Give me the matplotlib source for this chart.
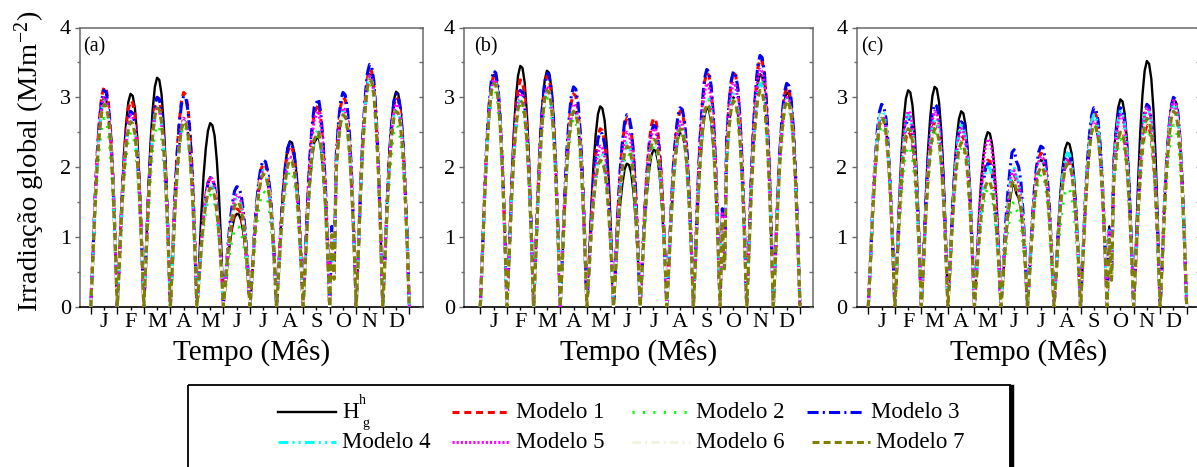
# horas medias mensais de irradiacao global: observado (H_g^h) e 7 modelos, 3 locais
import numpy as np
import matplotlib
matplotlib.use('Agg')
import matplotlib.pyplot as plt
from matplotlib.ticker import MultipleLocator
from matplotlib.patches import Rectangle

plt.rcParams['font.family'] = ['Liberation Serif', 'DejaVu Serif']
plt.rcParams['mathtext.fontset'] = 'custom'
plt.rcParams['mathtext.rm'] = 'Liberation Serif'
plt.rcParams['mathtext.it'] = 'Liberation Serif:italic'
plt.rcParams['lines.scale_dashes'] = False


# dados
meses = ['J', 'F', 'M', 'A', 'M', 'J', 'J', 'A', 'S', 'O', 'N', 'D']
rotulos_painel = ['(a)', '(b)', '(c)']

# observado, valores horarios de cada mes (MJ m-2)
obs_a = [
    [0, .72, 1.50, 2.13, 2.58, 2.88, 3.00, 2.97, 2.79, 2.40, 1.80, .99, 0],
    [0, .73, 1.53, 2.17, 2.62, 2.93, 3.05, 3.02, 2.84, 2.44, 1.83, 1.01, 0],
    [0, .79, 1.64, 2.33, 2.82, 3.15, 3.28, 3.25, 3.05, 2.62, 1.97, 1.08, 0],
    [0, .64, 1.34, 1.90, 2.30, 2.56, 2.67, 2.64, 2.48, 2.14, 1.60, .88, 0],
    [0, .63, 1.32, 1.87, 2.26, 2.52, 2.63, 2.60, 2.45, 2.10, 1.58, .87, 0],
    [.05, .32, .67, .94, 1.14, 1.28, 1.33, 1.32, 1.24, 1.06, .80, .44, 0],
    [0, .46, .97, 1.37, 1.66, 1.85, 1.93, 1.91, 1.79, 1.54, 1.16, .64, 0],
    [0, .57, 1.19, 1.68, 2.04, 2.28, 2.37, 2.35, 2.20, 1.90, 1.42, .78, 0],
    [0, .59, 1.23, 1.74, 2.11, 2.35, 2.40, 2.45, 2.28, 1.96, 1.47, .81, 0],
    [0, 1.05, .40, 1.99, 2.41, 2.69, 2.80, 2.77, 2.60, 2.24, 1.68, .92, 0],
    [0, .80, 1.67, 2.36, 2.86, 3.20, 3.33, 3.30, 3.10, 2.66, 2.00, 1.10, 0],
    [0, .74, 1.54, 2.19, 2.65, 2.96, 3.08, 3.05, 2.86, 2.46, 1.85, 1.02, 0],
]
obs_b = [
    [0, .80, 1.66, 2.36, 2.86, 3.19, 3.32, 3.29, 3.09, 2.66, 1.99, 1.10, 0],
    [0, .83, 1.73, 2.45, 2.97, 3.31, 3.45, 3.42, 3.21, 2.76, 2.07, 1.14, 0],
    [0, .81, 1.69, 2.40, 2.91, 3.24, 3.38, 3.35, 3.14, 2.70, 2.03, 1.12, 0],
    [0, .68, 1.42, 2.01, 2.43, 2.72, 2.83, 2.80, 2.63, 2.26, 1.70, .93, 0],
    [0, .69, 1.44, 2.04, 2.47, 2.76, 2.87, 2.84, 2.67, 2.30, 1.72, .95, 0],
    [0, .49, 1.03, 1.46, 1.76, 1.97, 2.05, 2.03, 1.91, 1.64, 1.23, .68, 0],
    [0, .54, 1.13, 1.60, 1.94, 2.16, 2.25, 2.23, 2.09, 1.80, 1.35, .74, 0],
    [0, .60, 1.25, 1.78, 2.15, 2.40, 2.50, 2.48, 2.33, 2.00, 1.50, .83, 0],
    [0, .68, 1.43, 2.02, 2.45, 2.74, 2.85, 2.82, 2.65, 2.28, 1.71, .94, 0],
    [0, 1.25, .55, 2.13, 2.58, 2.88, 3.00, 2.97, 2.79, 2.40, 1.80, .99, 0],
    [0, .80, 1.67, 2.36, 2.86, 3.20, 3.33, 3.30, 3.10, 2.66, 2.00, 1.10, 0],
    [0, .74, 1.54, 2.18, 2.64, 2.95, 3.07, 3.04, 2.86, 2.46, 1.84, 1.01, 0],
]
obs_c = [
    [0, .66, 1.38, 1.95, 2.37, 2.64, 2.75, 2.72, 2.56, 2.20, 1.65, .91, 0],
    [0, .74, 1.55, 2.20, 2.67, 2.98, 3.10, 3.07, 2.88, 2.48, 1.86, 1.02, 0],
    [0, .76, 1.58, 2.24, 2.71, 3.02, 3.15, 3.12, 2.93, 2.52, 1.89, 1.04, 0],
    [0, .67, 1.40, 1.99, 2.41, 2.69, 2.80, 2.77, 2.60, 2.24, 1.68, .92, 0],
    [0, .60, 1.25, 1.78, 2.15, 2.40, 2.50, 2.48, 2.33, 2.00, 1.50, .83, 0],
    [0, .42, .88, 1.24, 1.51, 1.72, 1.75, 1.62, 1.56, 1.40, 1.05, .58, 0],
    [0, .50, 1.05, 1.49, 1.81, 2.02, 2.10, 2.08, 1.95, 1.68, 1.26, .69, 0],
    [0, .56, 1.18, 1.67, 2.02, 2.26, 2.35, 2.33, 2.19, 1.88, 1.41, .78, 0],
    [0, .62, 1.30, 1.85, 2.24, 2.50, 2.60, 2.57, 2.42, 2.08, 1.56, .86, 0],
    [0, 1.15, .45, 2.11, 2.55, 2.85, 2.97, 2.94, 2.76, 2.38, 1.78, .98, 0],
    [0, .84, 1.76, 2.50, 3.03, 3.38, 3.52, 3.48, 3.27, 2.82, 2.11, 1.16, 0],
    [0, .71, 1.49, 2.11, 2.55, 2.85, 2.97, 2.94, 2.76, 2.38, 1.78, .98, 0],
]

# picos mensais de cada modelo (MJ m-2)
picos_a = {
    'Modelo 1': [3.15, 2.95, 3.00, 3.07, 1.85, 1.40, 2.05, 2.30, 2.90, 3.00, 3.40, 3.00],
    'Modelo 2': [2.70, 2.50, 2.60, 2.60, 1.60, 1.15, 1.65, 1.95, 2.45, 2.75, 3.20, 2.60],
    'Modelo 3': [3.10, 2.80, 3.00, 3.02, 1.85, 1.72, 2.10, 2.35, 2.98, 3.07, 3.47, 3.05],
    'Modelo 4': [2.95, 2.70, 2.85, 2.65, 1.75, 1.55, 1.95, 2.10, 2.55, 2.80, 3.30, 2.85],
    'Modelo 5': [3.00, 2.75, 2.85, 2.70, 1.85, 1.60, 1.95, 2.15, 2.80, 2.85, 3.30, 2.90],
    'Modelo 6': [2.90, 2.70, 2.85, 2.65, 1.75, 1.50, 1.95, 2.10, 2.55, 2.80, 3.25, 2.85],
    'Modelo 7': [2.90, 2.65, 2.85, 2.65, 1.70, 1.50, 1.90, 2.10, 2.50, 2.75, 3.25, 2.80],
}
picos_b = {
    'Modelo 1': [3.30, 3.25, 3.30, 3.05, 2.55, 2.70, 2.70, 2.80, 3.35, 3.35, 3.55, 3.15],
    'Modelo 2': [3.10, 2.90, 3.00, 2.70, 2.10, 2.20, 2.30, 2.50, 3.00, 2.95, 3.25, 2.90],
    'Modelo 3': [3.38, 3.10, 3.35, 3.15, 2.50, 2.75, 2.60, 2.85, 3.40, 3.37, 3.60, 3.20],
    'Modelo 4': [3.25, 3.00, 3.10, 2.85, 2.20, 2.35, 2.40, 2.60, 3.00, 3.05, 3.20, 3.00],
    'Modelo 5': [3.25, 3.05, 3.15, 2.90, 2.30, 2.50, 2.55, 2.65, 3.20, 3.20, 3.40, 3.00],
    'Modelo 6': [3.20, 3.00, 3.10, 2.85, 2.15, 2.30, 2.40, 2.55, 2.95, 3.00, 3.15, 2.95],
    'Modelo 7': [3.20, 2.95, 3.10, 2.80, 2.10, 2.30, 2.40, 2.55, 2.90, 2.95, 3.10, 2.95],
}
picos_c = {
    'Modelo 1': [2.70, 2.50, 2.65, 2.45, 2.10, 1.90, 2.20, 2.10, 2.78, 2.55, 2.60, 2.85],
    'Modelo 2': [2.60, 2.30, 2.50, 2.30, 1.70, 1.50, 1.90, 1.70, 2.60, 2.40, 2.55, 2.60],
    'Modelo 3': [2.90, 2.70, 2.90, 2.65, 2.05, 2.25, 2.30, 2.20, 2.85, 2.85, 2.90, 3.00],
    'Modelo 4': [2.80, 2.75, 2.70, 2.60, 2.00, 2.00, 2.10, 2.20, 2.75, 2.80, 2.85, 2.90],
    'Modelo 5': [2.75, 2.80, 2.80, 2.55, 2.40, 1.95, 2.15, 2.10, 2.65, 2.75, 2.85, 2.95],
    'Modelo 6': [2.75, 2.60, 2.60, 2.40, 1.90, 1.85, 2.05, 2.05, 2.60, 2.55, 2.70, 2.85],
    'Modelo 7': [2.70, 2.55, 2.55, 2.35, 1.80, 1.80, 2.00, 2.05, 2.60, 2.50, 2.70, 2.80],
}

# estilos
cor_obs = 'black'
estilos = {
    'Modelo 1': ('#ff0000', (0, (5, 3.5))),
    'Modelo 2': ('#00ff00', (0, (1.5, 6))),
    'Modelo 3': ('#0000ff', (0, (8, 3, 1.5, 3))),
    'Modelo 4': ('#00ffff', (0, (7, 3, 1.5, 3, 1.5, 3))),
    'Modelo 5': ('#ff00ff', (0, (1.5, 1.5))),
    'Modelo 6': ('#f3f3e2', (0, (6, 3, 1.5, 3))),
    'Modelo 7': ('#808000', (0, (5, 3))),
}


def serie(valores_mes, picos=None):
    xs, ys = [], []
    for m, v in enumerate(valores_mes):
        v = np.array(v, dtype=float)
        if picos is not None:
            v = v / v.max() * picos[m]
        xs.append(m + np.linspace(0, 1, len(v)))
        ys.append(v)
    return np.concatenate(xs), np.concatenate(ys)


W, H = 1197, 467
fig = plt.figure(figsize=(W / 100, H / 100), dpi=100)

# posicoes dos paineis em pixels: esquerda, direita, x do primeiro tick, espaco entre ticks
layout = [(80, 423, 90.7, 26.55), (464.3, 813, 480.3, 26.64), (856.7, 1200, 868.3, 26.53)]
topo, base = 27.5, 306.7
cinza = '#6a6a6a'

for i, (obs, picos) in enumerate([(obs_a, picos_a), (obs_b, picos_b), (obs_c, picos_c)]):
    esq, dir_, t0, dx = layout[i]
    ax = fig.add_axes([esq / W, (H - base) / H, (dir_ - esq) / W, (base - topo) / H])

    x, y = serie(obs)
    ax.plot(x, y, color=cor_obs, lw=1.7, zorder=2)
    for nome, (cor, ls) in estilos.items():
        x, y = serie(obs, picos[nome])
        ax.plot(x, y, color=cor, ls=ls, lw=2.2, zorder=3)

    ax.set_xlim((esq - t0) / dx, (dir_ - t0) / dx)
    ax.set_ylim(0, 4)

    ax.set_xticks(np.arange(13))
    ax.set_xticklabels([])
    ax.set_xticks(np.arange(12) + 0.5, meses, minor=True)
    ax.tick_params(axis='x', which='major', direction='out', length=5, width=1, color='black')
    ax.tick_params(axis='x', which='minor', direction='out', length=2.5, width=1,
                   color='black', labelsize=16, pad=2)

    ax.yaxis.set_major_locator(MultipleLocator(1))
    ax.yaxis.set_minor_locator(MultipleLocator(0.5))
    ax.tick_params(axis='y', which='major', direction='out', length=3.6, width=1,
                   color=cinza, labelsize=16, pad=3)
    ax.tick_params(axis='y', which='minor', direction='out', length=2.2, width=1, color=cinza)

    # ticks do eixo direito voltados para dentro
    ax2 = ax.twinx()
    ax2.set_ylim(0, 4)
    ax2.yaxis.set_major_locator(MultipleLocator(1))
    ax2.yaxis.set_minor_locator(MultipleLocator(0.5))
    ax2.tick_params(axis='y', which='both', direction='in', length=3, width=1,
                    color=cinza, labelright=False)
    for s in ax2.spines.values():
        s.set_visible(False)

    for lado in ['left', 'top', 'right']:
        ax.spines[lado].set_color(cinza)
        ax.spines[lado].set_linewidth(1.1)
    ax.spines['bottom'].set_color('black')
    ax.spines['bottom'].set_linewidth(1.2)

    ax.text([3.5, 10, 4.5][i] / (dir_ - esq), (base - 37) / (base - topo),
            rotulos_painel[i], fontsize=14.5, ha='left', va='top', transform=ax.transAxes)

    ax.set_xlabel('Tempo (Mês)', fontsize=21)
    ax.xaxis.label.set_va('center')
    ax.xaxis.set_label_coords(0.5, -(352 - base) / (base - topo))

fig.text(29.5 / W, 1 - 161.5 / H, 'Irradiação global (MJm$^{-2}$)', fontsize=20.5,
         rotation=90, ha='center', va='center')

# legenda desenhada em coordenadas de pixel
lg = fig.add_axes([0, 0, 1, 1])
lg.set_xlim(0, W)
lg.set_ylim(H, 0)
lg.axis('off')
lg.patch.set_alpha(0)
lg.add_patch(Rectangle((188, 384.5), 822, 100, fill=False, lw=1.3, ec='black', clip_on=False))
lg.plot([1011.5, 1011.5], [387, H + 5], color='black', lw=3.2, clip_on=False)

entradas = [
    (278, 412, 'H', cor_obs, '-'),
    (452, 412, 'Modelo 1') + estilos['Modelo 1'],
    (632, 412, 'Modelo 2') + estilos['Modelo 2'],
    (807, 412, 'Modelo 3') + estilos['Modelo 3'],
    (278, 442, 'Modelo 4') + estilos['Modelo 4'],
    (452, 442, 'Modelo 5') + estilos['Modelo 5'],
    (632, 442, 'Modelo 6') + estilos['Modelo 6'],
    (812, 442, 'Modelo 7') + estilos['Modelo 7'],
]
for x0, y0, nome, cor, ls in entradas:
    lg.plot([x0, x0 + 58], [y0, y0], color=cor, ls=ls, lw=1.7 if nome == 'H' else 2.2)
    lg.text(x0 + 64, y0 + 1, nome, fontsize=16.5, ha='left', va='center')
lg.text(359, 401, 'h', fontsize=10, ha='left', va='center')
lg.text(362, 423, 'g', fontsize=10, ha='left', va='center')

plt.savefig('out.png', dpi=100)
